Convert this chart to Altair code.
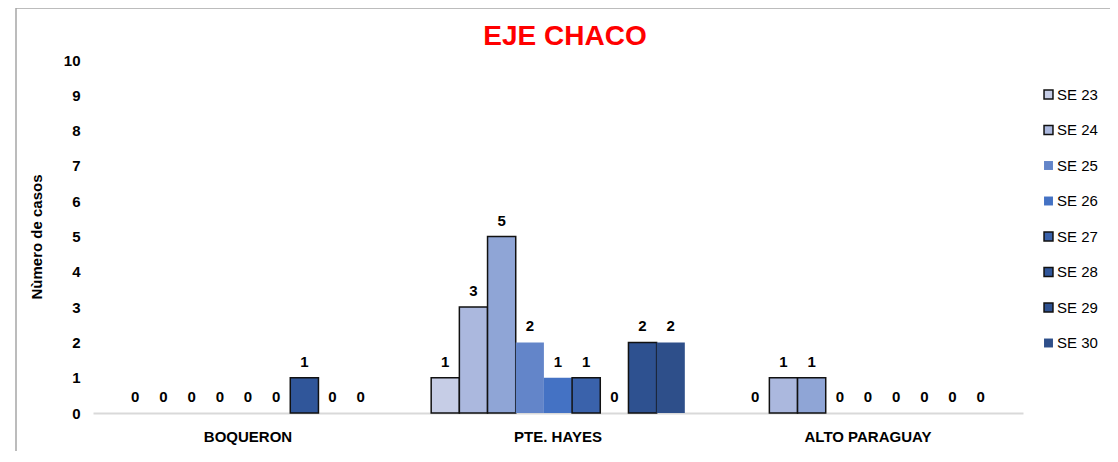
import altair as alt
import pandas as pd

regions = ["BOQUERON", "PTE. HAYES", "ALTO PARAGUAY"]
series = ["SE 23", "SE 24", "(sin etiqueta)", "SE 25", "SE 26", "SE 27", "SE 28", "SE 29", "SE 30"]
legend_series = ["SE 23", "SE 24", "SE 25", "SE 26", "SE 27", "SE 28", "SE 29", "SE 30"]
boqueron = [0, 0, 0, 0, 0, 0, 1, 0, 0]
pte_hayes = [1, 3, 5, 2, 1, 1, 0, 2, 2]
alto_paraguay = [0, 1, 1, 0, 0, 0, 0, 0, 0]
y_ticks = [0, 1, 2, 3, 4, 5, 6, 7, 8, 9, 10]
fill_colors = ["#c6cde6", "#abb8de", "#8fa5d6", "#6385c9", "#4472c4", "#3a62ab", "#30569a", "#2e5190", "#2e4f8a"]
stroke_colors = ["#111111", "#111111", "#111111", "transparent", "transparent", "#111111", "#111111", "#111111", "transparent"]
chart_title = "EJE CHACO"

rows = []
for reg, vals in zip(regions, [boqueron, pte_hayes, alto_paraguay]):
    for s, v in zip(series, vals):
        rows.append({"region": reg, "serie": s, "casos": v})
df = pd.DataFrame(rows)

FONT = "Liberation Sans"
FS = 15

x_enc = alt.X("region:N", sort=regions,
              scale=alt.Scale(paddingInner=0, paddingOuter=0),
              axis=alt.Axis(title=None, labelAngle=0, ticks=False, domainColor="#d9d9d9",
                            domainWidth=2, labelFont=FONT, labelFontSize=FS,
                            labelFontWeight="bold", labelColor="#000000", labelPadding=16))
xoff = alt.XOffset("serie:N", sort=series, scale=alt.Scale(paddingInner=0, paddingOuter=1))
y_enc = alt.Y("casos:Q", scale=alt.Scale(domain=[0, 10], nice=False),
              axis=alt.Axis(title="Nùmero de casos", values=y_ticks, tickCount=11, grid=False,
                            ticks=False, domain=False, labelOverlap=False,
                            labelFont=FONT, labelFontSize=FS,
                            labelFontWeight="bold", labelColor="#000000", labelPadding=13,
                            titleFont=FONT, titleFontSize=FS, titleFontWeight="bold",
                            titleColor="#000000", titlePadding=19))

legend = alt.Legend(title=None, values=legend_series, orient="none", legendX=948, legendY=27,
                    symbolType="square", symbolSize=80, symbolStrokeWidth=1.5,
                    labelFont=FONT, labelFontSize=FS, labelColor="#000000",
                    rowPadding=19.5, labelOffset=1)

bars = alt.Chart(df).transform_filter("datum.casos > 0").mark_bar(strokeWidth=1.5).encode(
    x=x_enc, xOffset=xoff, y=y_enc,
    fill=alt.Fill("serie:N", sort=series,
                  scale=alt.Scale(domain=series, range=fill_colors), legend=legend),
    stroke=alt.Stroke("serie:N", sort=series,
                      scale=alt.Scale(domain=series, range=stroke_colors), legend=legend),
)

labels = alt.Chart(df).mark_text(dy=-11, baseline="alphabetic", font=FONT, fontSize=FS,
                                 fontWeight="bold", color="#000000").encode(
    x=x_enc, xOffset=xoff, y=y_enc, text="casos:Q")

border = alt.Chart(alt.Data(values=[{}])).mark_rect(filled=False, stroke="#a6a6a6",
                                                    strokeWidth=1.5).encode(
    x=alt.value(-77), x2=alt.value(1019), y=alt.value(-52), y2=alt.value(420))

title = alt.Chart(alt.Data(values=[{"t": chart_title}])).mark_text(
    font=FONT, fontSize=28, fontWeight="bold", color="#ff0000",
    align="center", baseline="alphabetic").encode(
    x=alt.value(472), y=alt.value(-15), text="t:N")

chart = alt.layer(border, bars, labels, title).properties(
    width=930, height=353,
    autosize=alt.AutoSizeParams(type="none"),
    padding={"left": 85, "top": 52, "right": 87, "bottom": 38},
).configure_view(stroke=None)

chart.save("out.html", embed_options={"renderer": "svg", "actions": False})
